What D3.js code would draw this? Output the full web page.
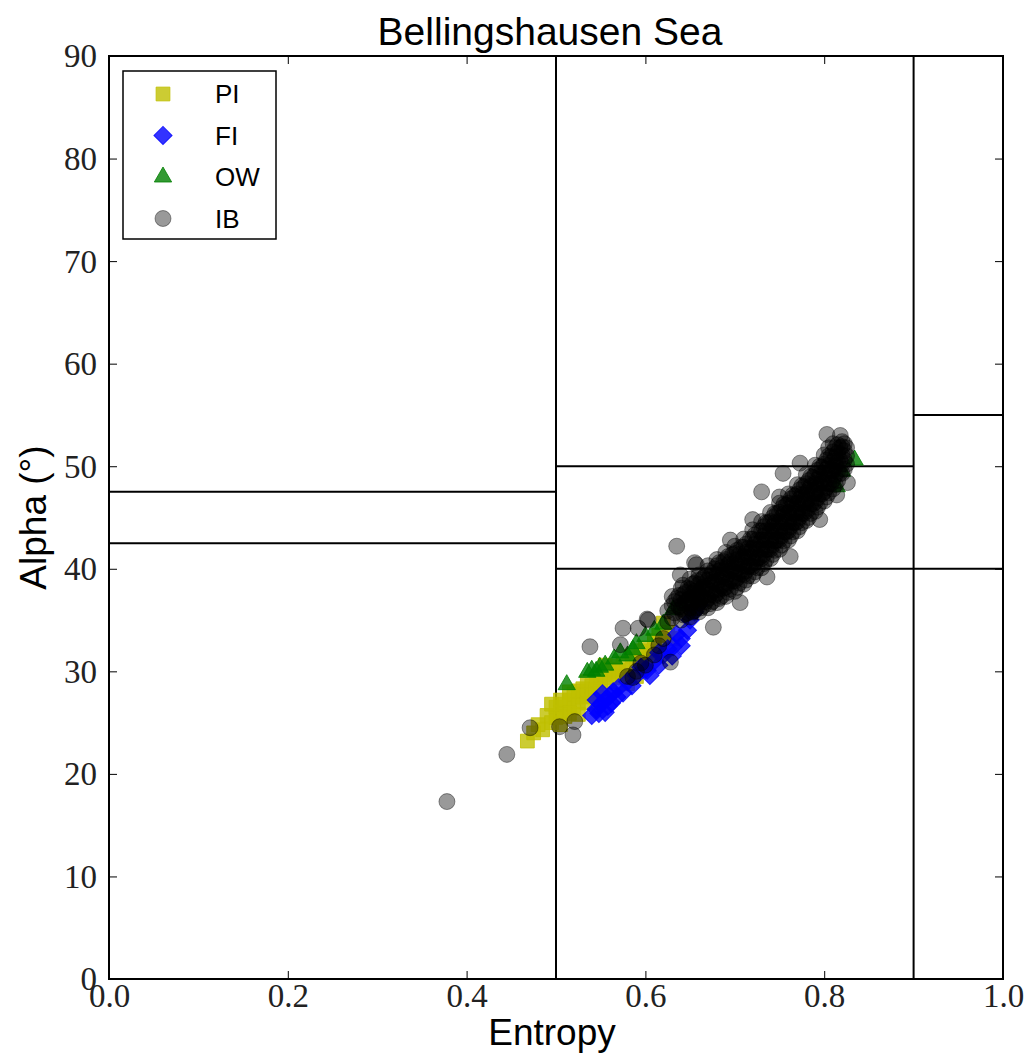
<!DOCTYPE html>
<html>
<head>
<meta charset="utf-8">
<script src="https://cdn.jsdelivr.net/npm/d3@7"></script>
<style>
    body { margin: 0; background: #fff; }
    svg text { fill: #000; }
</style>
</head>
<body>
<div id="chart"></div>
<script>
var xTicks = [0.0, 0.2, 0.4, 0.6, 0.8, 1.0],
    yTicks = [0, 10, 20, 30, 40, 50, 60, 70, 80, 90],
    seriesNames = ['PI', 'FI', 'OW', 'IB'];

// zone boundaries (entropy / alpha classes)
var zoneVertical = [0.5, 0.9],
    zoneHorizontal = [
        [0.0, 0.5, 42.5], [0.0, 0.5, 47.5],
        [0.5, 0.9, 40], [0.5, 0.9, 50],
        [0.9, 1.0, 40], [0.9, 1.0, 55]
    ];

var piPoints = [
    [0.468, 23.2], [0.475, 24.0], [0.48, 24.8], [0.485, 24.3], [0.49, 25.7], [0.495, 25.0],
    [0.50, 25.5], [0.50, 26.5], [0.505, 26.0], [0.51, 26.8], [0.51, 25.6], [0.515, 27.2],
    [0.52, 26.4], [0.52, 27.8], [0.525, 27.0], [0.53, 27.5], [0.53, 28.3], [0.535, 28.0],
    [0.54, 28.6], [0.54, 27.6], [0.545, 29.0], [0.55, 28.3], [0.55, 29.4], [0.555, 29.7],
    [0.56, 29.0], [0.56, 30.2], [0.565, 30.5], [0.57, 30.0], [0.575, 30.8], [0.579, 30.1],
    [0.58, 28.8], [0.585, 31.5], [0.59, 31.2], [0.59, 29.5], [0.595, 32.0], [0.60, 32.3],
    [0.605, 31.8], [0.61, 33.0], [0.615, 33.5], [0.62, 34.7], [0.631, 33.2], [0.555, 30.6],
    [0.505, 27.2], [0.515, 25.9], [0.525, 28.1], [0.535, 26.9], [0.545, 27.8],
    [0.495, 26.8], [0.505, 24.8], [0.515, 28.0], [0.525, 25.8], [0.535, 29.0], [0.545, 28.2],
    [0.565, 29.4], [0.575, 29.6], [0.60, 31.0], [0.61, 32.0], [0.625, 33.8]
];

var fiPoints = [
    [0.54, 25.7], [0.545, 26.3], [0.548, 25.9], [0.55, 26.8], [0.555, 27.2], [0.558, 26.6],
    [0.56, 27.6], [0.564, 28.0], [0.57, 28.4], [0.58, 29.0], [0.59, 29.6], [0.60, 30.2],
    [0.602, 30.1], [0.61, 31.0], [0.615, 30.6], [0.62, 31.6], [0.625, 32.2], [0.631, 32.4],
    [0.635, 33.6], [0.64, 33.2], [0.647, 34.0], [0.65, 35.0], [0.655, 35.8], [0.66, 36.5],
    [0.552, 27.8], [0.562, 26.9], [0.568, 27.5],
    [0.545, 27.2], [0.555, 26.0], [0.575, 27.9], [0.585, 28.6], [0.595, 30.4], [0.605, 29.6],
    [0.615, 31.8], [0.63, 31.5], [0.64, 32.5]
];

var owPoints = [
    [0.512, 28.7], [0.535, 29.9], [0.54, 30.1], [0.545, 30.0], [0.549, 30.4], [0.555, 30.6],
    [0.565, 31.2], [0.572, 31.8], [0.58, 31.5], [0.586, 32.1], [0.59, 32.7], [0.60, 33.4],
    [0.61, 34.0], [0.62, 34.6], [0.631, 36.0], [0.64, 36.4], [0.65, 37.2], [0.66, 38.0],
    [0.814, 48.0], [0.82, 49.5], [0.834, 50.6]
];

var ibPoints = [
    // scattered points
    [0.378, 17.3], [0.445, 21.9], [0.471, 24.5], [0.504, 24.6], [0.519, 23.8], [0.521, 25.1],
    [0.538, 32.4], [0.572, 32.6], [0.575, 34.2], [0.592, 34.2], [0.602, 35.1], [0.603, 35.0],
    [0.628, 30.9], [0.58, 29.5], [0.586, 29.4], [0.59, 30.0], [0.595, 30.8], [0.60, 30.6],
    [0.61, 31.6], [0.615, 32.5], [0.62, 33.2], [0.635, 42.2], [0.635, 37.1], [0.639, 39.4],
    [0.642, 38.4], [0.655, 40.6], [0.657, 40.4], [0.695, 42.8], [0.720, 44.8], [0.730, 47.5],
    [0.754, 49.3], [0.773, 50.3], [0.803, 53.1], [0.818, 53.0], [0.826, 48.4], [0.814, 47.2],
    [0.795, 44.8], [0.762, 41.2], [0.736, 39.2], [0.706, 36.7], [0.676, 34.3],
    // main cluster
    [0.625, 34.8], [0.625, 35.9],
    [0.63, 35.2], [0.63, 36.4], [0.63, 37.3],
    [0.64, 35.0], [0.64, 36.1], [0.64, 37.0], [0.64, 38.1],
    [0.645, 35.6], [0.645, 36.8], [0.645, 37.7],
    [0.65, 35.3], [0.65, 36.2], [0.65, 37.1], [0.65, 38.0], [0.65, 39.0],
    [0.655, 35.9], [0.655, 36.9], [0.655, 37.8], [0.655, 38.6],
    [0.66, 35.8], [0.66, 36.7], [0.66, 37.6], [0.66, 38.5], [0.66, 39.4],
    [0.665, 36.4], [0.665, 37.3], [0.665, 38.2], [0.665, 39.1],
    [0.67, 36.2], [0.67, 37.1], [0.67, 38.0], [0.67, 38.9], [0.67, 39.8], [0.67, 40.3],
    [0.675, 36.8], [0.675, 37.8], [0.675, 38.7], [0.675, 39.6],
    [0.68, 36.7], [0.68, 37.6], [0.68, 38.5], [0.68, 39.4], [0.68, 40.3], [0.68, 40.9],
    [0.685, 37.3], [0.685, 38.3], [0.685, 39.2], [0.685, 40.1],
    [0.69, 37.3], [0.69, 38.2], [0.69, 39.1], [0.69, 40.0], [0.69, 40.9], [0.69, 41.6],
    [0.695, 38.0], [0.695, 38.9], [0.695, 39.8], [0.695, 40.7],
    [0.70, 37.8], [0.70, 38.8], [0.70, 39.7], [0.70, 40.6], [0.70, 41.5], [0.70, 42.2],
    [0.705, 38.6], [0.705, 39.6], [0.705, 40.5], [0.705, 41.4],
    [0.71, 38.5], [0.71, 39.4], [0.71, 40.3], [0.71, 41.2], [0.71, 42.1], [0.71, 42.9],
    [0.715, 39.3], [0.715, 40.2], [0.715, 41.1], [0.715, 42.0],
    [0.72, 39.3], [0.72, 40.2], [0.72, 41.1], [0.72, 42.0], [0.72, 42.9], [0.72, 43.8],
    [0.725, 40.1], [0.725, 41.0], [0.725, 41.9], [0.725, 42.8],
    [0.73, 40.1], [0.73, 41.0], [0.73, 41.9], [0.73, 42.8], [0.73, 43.7], [0.73, 44.6],
    [0.735, 40.9], [0.735, 41.9], [0.735, 42.8], [0.735, 43.7], [0.735, 44.5],
    [0.74, 41.0], [0.74, 41.9], [0.74, 42.8], [0.74, 43.7], [0.74, 44.6], [0.74, 45.5],
    [0.745, 41.8], [0.745, 42.7], [0.745, 43.6], [0.745, 44.5], [0.745, 45.4],
    [0.75, 41.9], [0.75, 42.8], [0.75, 43.7], [0.75, 44.6], [0.75, 45.5], [0.75, 46.4], [0.75, 47.0],
    [0.755, 42.7], [0.755, 43.6], [0.755, 44.5], [0.755, 45.4], [0.755, 46.3],
    [0.76, 42.8], [0.76, 43.7], [0.76, 44.6], [0.76, 45.5], [0.76, 46.4], [0.76, 47.3],
    [0.765, 43.6], [0.765, 44.5], [0.765, 45.4], [0.765, 46.3], [0.765, 47.2],
    [0.77, 43.7], [0.77, 44.6], [0.77, 45.5], [0.77, 46.4], [0.77, 47.3], [0.77, 48.2],
    [0.775, 44.5], [0.775, 45.4], [0.775, 46.3], [0.775, 47.2], [0.775, 48.1],
    [0.78, 44.7], [0.78, 45.6], [0.78, 46.5], [0.78, 47.4], [0.78, 48.3], [0.78, 49.2],
    [0.785, 45.4], [0.785, 46.3], [0.785, 47.2], [0.785, 48.1], [0.785, 49.0],
    [0.79, 45.6], [0.79, 46.5], [0.79, 47.4], [0.79, 48.3], [0.79, 49.2], [0.79, 50.1],
    [0.795, 46.4], [0.795, 47.3], [0.795, 48.2], [0.795, 49.1], [0.795, 50.0],
    [0.80, 46.6], [0.80, 47.5], [0.80, 48.4], [0.80, 49.3], [0.80, 50.2], [0.80, 51.1],
    [0.805, 47.4], [0.805, 48.3], [0.805, 49.2], [0.805, 50.1], [0.805, 51.0], [0.805, 51.8],
    [0.81, 47.8], [0.81, 48.7], [0.81, 49.6], [0.81, 50.5], [0.81, 51.4], [0.81, 52.2],
    [0.815, 48.6], [0.815, 49.5], [0.815, 50.4], [0.815, 51.3], [0.815, 52.1],
    [0.82, 49.3], [0.82, 50.2], [0.82, 51.1], [0.82, 51.9], [0.82, 52.4],
    [0.825, 50.2], [0.825, 51.0], [0.825, 51.8],
    // dense core, in between the rows above
    [0.6325, 35.7], [0.6325, 36.8],
    [0.6425, 35.5], [0.6425, 36.6], [0.6425, 37.5],
    [0.6525, 35.8], [0.6525, 36.7], [0.6525, 37.6], [0.6525, 38.5],
    [0.6625, 36.2], [0.6625, 37.1], [0.6625, 38.0], [0.6625, 38.9],
    [0.6725, 36.6], [0.6725, 37.5], [0.6725, 38.4], [0.6725, 39.3],
    [0.6825, 37.1], [0.6825, 38.0], [0.6825, 38.9], [0.6825, 39.8], [0.6825, 40.6],
    [0.6925, 37.7], [0.6925, 38.6], [0.6925, 39.5], [0.6925, 40.4], [0.6925, 41.2],
    [0.7025, 38.2], [0.7025, 39.1], [0.7025, 40.0], [0.7025, 40.9], [0.7025, 41.8],
    [0.7125, 38.9], [0.7125, 39.8], [0.7125, 40.7], [0.7125, 41.6], [0.7125, 42.4],
    [0.7225, 39.7], [0.7225, 40.6], [0.7225, 41.5], [0.7225, 42.4], [0.7225, 43.3],
    [0.7325, 40.5], [0.7325, 41.4], [0.7325, 42.3], [0.7325, 43.2], [0.7325, 44.1],
    [0.7425, 41.4], [0.7425, 42.3], [0.7425, 43.2], [0.7425, 44.1], [0.7425, 45.0],
    [0.7525, 42.3], [0.7525, 43.2], [0.7525, 44.1], [0.7525, 45.0], [0.7525, 45.9],
    [0.7625, 43.2], [0.7625, 44.1], [0.7625, 45.0], [0.7625, 45.9], [0.7625, 46.8],
    [0.7725, 44.1], [0.7725, 45.0], [0.7725, 45.9], [0.7725, 46.8], [0.7725, 47.7],
    [0.7825, 45.0], [0.7825, 45.9], [0.7825, 46.8], [0.7825, 47.7], [0.7825, 48.6],
    [0.7925, 46.0], [0.7925, 46.9], [0.7925, 47.8], [0.7925, 48.7], [0.7925, 49.6],
    [0.8025, 47.0], [0.8025, 47.9], [0.8025, 48.8], [0.8025, 49.7], [0.8025, 50.6],
    [0.8125, 48.2], [0.8125, 49.1], [0.8125, 50.0], [0.8125, 50.9], [0.8125, 51.8],
    [0.8225, 49.7], [0.8225, 50.6], [0.8225, 51.5], [0.8225, 52.2],
    [0.6375, 36.3], [0.6475, 36.9], [0.6575, 37.5], [0.6675, 38.1], [0.6775, 38.7],
    [0.6875, 39.4], [0.6975, 40.1], [0.7075, 40.8], [0.7175, 41.6], [0.7275, 42.4],
    [0.7375, 43.2], [0.7475, 44.1], [0.7575, 44.9], [0.7675, 45.8], [0.7775, 46.7],
    [0.7875, 47.6], [0.7975, 48.6], [0.8075, 49.6], [0.8175, 50.6],
    [0.6375, 37.4], [0.6475, 38.1], [0.6575, 38.8], [0.6675, 39.4], [0.6775, 40.0],
    [0.6875, 40.7], [0.6975, 41.4], [0.7075, 42.1], [0.7175, 42.9], [0.7275, 43.7],
    [0.7375, 44.5], [0.7475, 45.4], [0.7575, 46.2], [0.7675, 47.1], [0.7775, 48.0],
    [0.7875, 48.9], [0.7975, 49.9], [0.8075, 50.9], [0.8175, 51.8],
    [0.6475, 35.7], [0.6575, 36.2], [0.6675, 36.8], [0.6775, 37.4], [0.6875, 38.1],
    [0.6975, 38.8], [0.7075, 39.5], [0.7175, 40.3], [0.7275, 41.1], [0.7375, 41.9],
    [0.7475, 42.8], [0.7575, 43.6], [0.7675, 44.5], [0.7775, 45.4], [0.7875, 46.3],
    [0.7975, 47.3], [0.8075, 48.3], [0.8175, 49.3]
];

var margin = {left: 109, top: 56, right: 23, bottom: 79},
    W = 1026,
    H = 1058,
    width = W - margin.left - margin.right,
    height = H - margin.top - margin.bottom;

var svg = d3.select('#chart').append('svg')
        .attr('width', W)
        .attr('height', H),
    chart = svg.append('g')
        .attr('transform', 'translate(' + margin.left + ',' + margin.top + ')'),
    xScale = d3.scaleLinear().domain([0, 1]).range([0, width]),
    yScale = d3.scaleLinear().domain([0, 90]).range([height, 0]);

var serif = '"Liberation Serif", "DejaVu Serif", serif',
    sans = '"Liberation Sans", Arial, sans-serif';

// markers: fill + stroke with separate alpha gives the darker rim
var styles = {
    PI: {data: piPoints, symbol: d3.symbolSquare, size: 190, rotate: 0, color: 'rgb(191,191,0)', alpha: 0.8},
    FI: {data: fiPoints, symbol: d3.symbolSquare, size: 165, rotate: 45, color: 'rgb(0,0,255)', alpha: 0.8},
    OW: {data: owPoints, symbol: d3.symbolTriangle, size: 130, rotate: 0, color: 'rgb(0,128,0)', alpha: 0.8},
    IB: {data: ibPoints, symbol: d3.symbolCircle, size: 200, rotate: 0, color: 'rgb(0,0,0)', alpha: 0.4}
};

var zones = chart.append('g');

zones.selectAll('.vline')
    .data(zoneVertical)
    .enter()
    .append('line')
    .attr('x1', function(d) { return xScale(d); })
    .attr('x2', function(d) { return xScale(d); })
    .attr('y1', yScale(0))
    .attr('y2', yScale(90))
    .attr('stroke', '#000')
    .attr('stroke-width', 2);

zones.selectAll('.hline')
    .data(zoneHorizontal)
    .enter()
    .append('line')
    .attr('x1', function(d) { return xScale(d[0]); })
    .attr('x2', function(d) { return xScale(d[1]); })
    .attr('y1', function(d) { return yScale(d[2]); })
    .attr('y2', function(d) { return yScale(d[2]); })
    .attr('stroke', '#000')
    .attr('stroke-width', 2);

var points = chart.append('g');

seriesNames.forEach(function(name) {
    var s = styles[name],
        sym = d3.symbol().type(s.symbol).size(s.size);
    points.append('g')
        .selectAll('path')
        .data(s.data)
        .enter()
        .append('path')
        .attr('d', sym)
        .attr('transform', function(d) {
            return 'translate(' + xScale(d[0]) + ',' + yScale(d[1]) + ') rotate(' + s.rotate + ')';
        })
        .attr('fill', s.color)
        .attr('fill-opacity', s.alpha)
        .attr('stroke', s.color)
        .attr('stroke-opacity', s.alpha)
        .attr('stroke-width', 1);
});

// axes: ticks inside, on all four sides
var xAxisB = d3.axisBottom(xScale).tickValues(xTicks).tickSize(-8).tickFormat(d3.format('.1f')),
    xAxisT = d3.axisTop(xScale).tickValues(xTicks).tickSize(-8).tickFormat(''),
    yAxisL = d3.axisLeft(yScale).tickValues(yTicks).tickSize(-8).tickFormat(d3.format('d')),
    yAxisR = d3.axisRight(yScale).tickValues(yTicks).tickSize(-8).tickFormat('');

var xx = chart.append('g')
        .attr('transform', 'translate(0,' + height + ')')
        .call(xAxisB),
    xt = chart.append('g').call(xAxisT),
    yy = chart.append('g').call(yAxisL),
    yr = chart.append('g')
        .attr('transform', 'translate(' + width + ',0)')
        .call(yAxisR);

[xx, xt, yy, yr].forEach(function(ax) {
    ax.select('.domain').remove();
    ax.selectAll('.tick line').attr('stroke', '#000').attr('stroke-width', 1);
});

xx.selectAll('text')
    .attr('y', 28)
    .attr('dy', 0)
    .style('font-family', serif)
    .style('font-size', '33px')
    .style('fill', '#222');

yy.selectAll('text')
    .attr('x', -12)
    .attr('dy', '0.33em')
    .style('font-family', serif)
    .style('font-size', '33px')
    .style('fill', '#222');

chart.append('rect')
    .attr('width', width)
    .attr('height', height)
    .attr('fill', 'none')
    .attr('stroke', '#000')
    .attr('stroke-width', 2);

// legend
var legend = svg.append('g')
    .attr('transform', 'translate(123,71)');

legend.append('rect')
    .attr('width', 153)
    .attr('height', 168)
    .attr('fill', '#fff')
    .attr('stroke', '#000')
    .attr('stroke-width', 1.5);

var items = legend.selectAll('.item')
    .data(seriesNames)
    .enter()
    .append('g')
    .attr('class', 'item')
    .attr('transform', function(d, i) { return 'translate(0,' + (23 + i * 41.5) + ')'; });

items.append('path')
    .attr('d', function(d) { return d3.symbol().type(styles[d].symbol).size(styles[d].size)(); })
    .attr('transform', function(d) { return 'translate(40,0) rotate(' + styles[d].rotate + ')'; })
    .attr('fill', function(d) { return styles[d].color; })
    .attr('fill-opacity', function(d) { return styles[d].alpha; })
    .attr('stroke', function(d) { return styles[d].color; })
    .attr('stroke-opacity', function(d) { return styles[d].alpha; })
    .attr('stroke-width', 1);

items.append('text')
    .attr('x', 92)
    .attr('dy', '0.36em')
    .style('font-family', sans)
    .style('font-size', '26px')
    .text(function(d) { return d; });

// titles
svg.append('text')
    .attr('x', 550)
    .attr('y', 45)
    .attr('text-anchor', 'middle')
    .style('font-family', sans)
    .style('font-size', '39px')
    .text('Bellingshausen Sea');

svg.append('text')
    .attr('x', 552)
    .attr('y', 1045)
    .attr('text-anchor', 'middle')
    .style('font-family', sans)
    .style('font-size', '37px')
    .text('Entropy');

svg.append('text')
    .attr('transform', 'translate(46,' + (margin.top + height / 2) + ') rotate(-90)')
    .attr('text-anchor', 'middle')
    .style('font-family', sans)
    .style('font-size', '37px')
    .text('Alpha (°)');
</script>
</body>
</html>
